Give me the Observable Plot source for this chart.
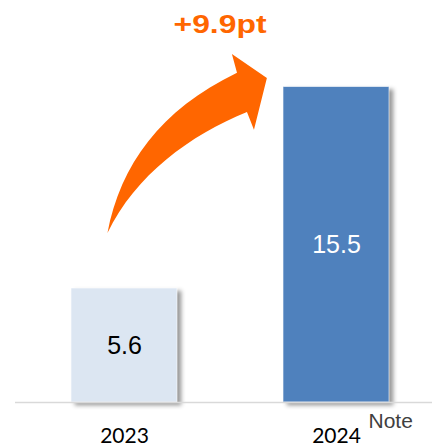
<!DOCTYPE html>
<html>
<head>
<meta charset="utf-8">
<script src="https://cdn.jsdelivr.net/npm/d3@7"></script>
<script src="https://cdn.jsdelivr.net/npm/@observablehq/plot@0.6"></script>
<style>
  html, body { margin: 0; padding: 0; background: #fff; }
  svg g[aria-label="bar"] rect { filter: drop-shadow(4px 3px 2px rgba(0,0,0,0.4)); }
</style>
</head>
<body>
<div id="chart"></div>
<script>
// ---- data ----
const years = ["2023", "2024"];
const values = [5.6, 15.5];
const barColors = ["#dce6f2", "#4f81bd"];
const labelColors = ["#000000", "#ffffff"];
const changeLabel = "+9.9pt";
const noteLabel = "Note";

const data = years.map((year, i) => ({year, value: values[i], fill: barColors[i], labelFill: labelColors[i]}));

// arrow annotation: u = position in band-steps from the first bar's centre, v = value units
const arrowTail = [-0.078, 8.3];
const arrowOuter = [[-0.016, 11.65], [0.171, 14.35], [0.533, 16.17]];
const arrowHead = [[0.509, 17.1], [0.674, 15.92], [0.613, 13.37], [0.58, 14.25]];
const arrowInner = [[0.312, 13.12], [0.054, 11.15]];

function arrowMark(index, scales, values, dimensions) {
  const x = scales.x, y = scales.y;
  const c0 = x(years[0]) + x.bandwidth() / 2;
  const c1 = x(years[1]) + x.bandwidth() / 2;
  const P = ([u, v]) => `${c0 + u * (c1 - c0)},${y(v)}`;
  const d = `M${P(arrowTail)} C${P(arrowOuter[0])} ${P(arrowOuter[1])} ${P(arrowOuter[2])}`
    + ` L${P(arrowHead[0])} L${P(arrowHead[1])} L${P(arrowHead[2])} L${P(arrowHead[3])}`
    + ` C${P(arrowInner[0])} ${P(arrowInner[1])} ${P(arrowTail)} Z`;
  const ns = "http://www.w3.org/2000/svg";
  const g = document.createElementNS(ns, "g");
  const path = document.createElementNS(ns, "path");
  path.setAttribute("d", d);
  path.setAttribute("fill", "#ff6600");
  g.appendChild(path);
  return g;
}

const chart = Plot.plot({
  width: 432,
  height: 447,
  marginTop: 0,
  marginBottom: 45,
  marginLeft: 15,
  marginRight: 0,
  style: {fontFamily: "'Liberation Sans', Arial, sans-serif", background: "#fff"},
  x: {domain: years, paddingInner: 0.5, paddingOuter: 0.229, align: 0.564, label: null},
  y: {domain: [0, 19.75], axis: null},
  marks: [
    Plot.barY(data, {x: "year", y: "value", fill: "fill", stroke: "#ffffff", strokeOpacity: 0.6, strokeWidth: 1}),
    Plot.ruleY([0], {stroke: "#d9d9d9", strokeWidth: 1.5}),
    Plot.text(data, {x: "year", y: d => d.value / 2, text: d => d.value.toFixed(1), fill: "labelFill", fontSize: 25}),
    Plot.axisX({tickSize: 0, tickPadding: 26, fontSize: 21, fontFamily: "Lato, 'Noto Sans', sans-serif", color: "#000"}),
    Plot.text([noteLabel], {x: () => years[1], frameAnchor: "bottom", y: null, dx: 32, dy: 25, textAnchor: "start", lineAnchor: "bottom", fontSize: 21, fill: "#404040"}),
    arrowMark,
    Plot.text([changeLabel], {frameAnchor: "top", dx: -4, dy: 15, lineAnchor: "top", fontSize: 25, fontWeight: "bold", fill: "#ff6600"})
  ]
});
// stretch the change label horizontally like the reference's wide lettering
chart.querySelectorAll("text").forEach(t => {
  if (t.textContent === changeLabel) {
    t.setAttribute("textLength", 93);
    t.setAttribute("lengthAdjust", "spacingAndGlyphs");
  }
});
document.getElementById("chart").appendChild(chart);
</script>
</body>
</html>
